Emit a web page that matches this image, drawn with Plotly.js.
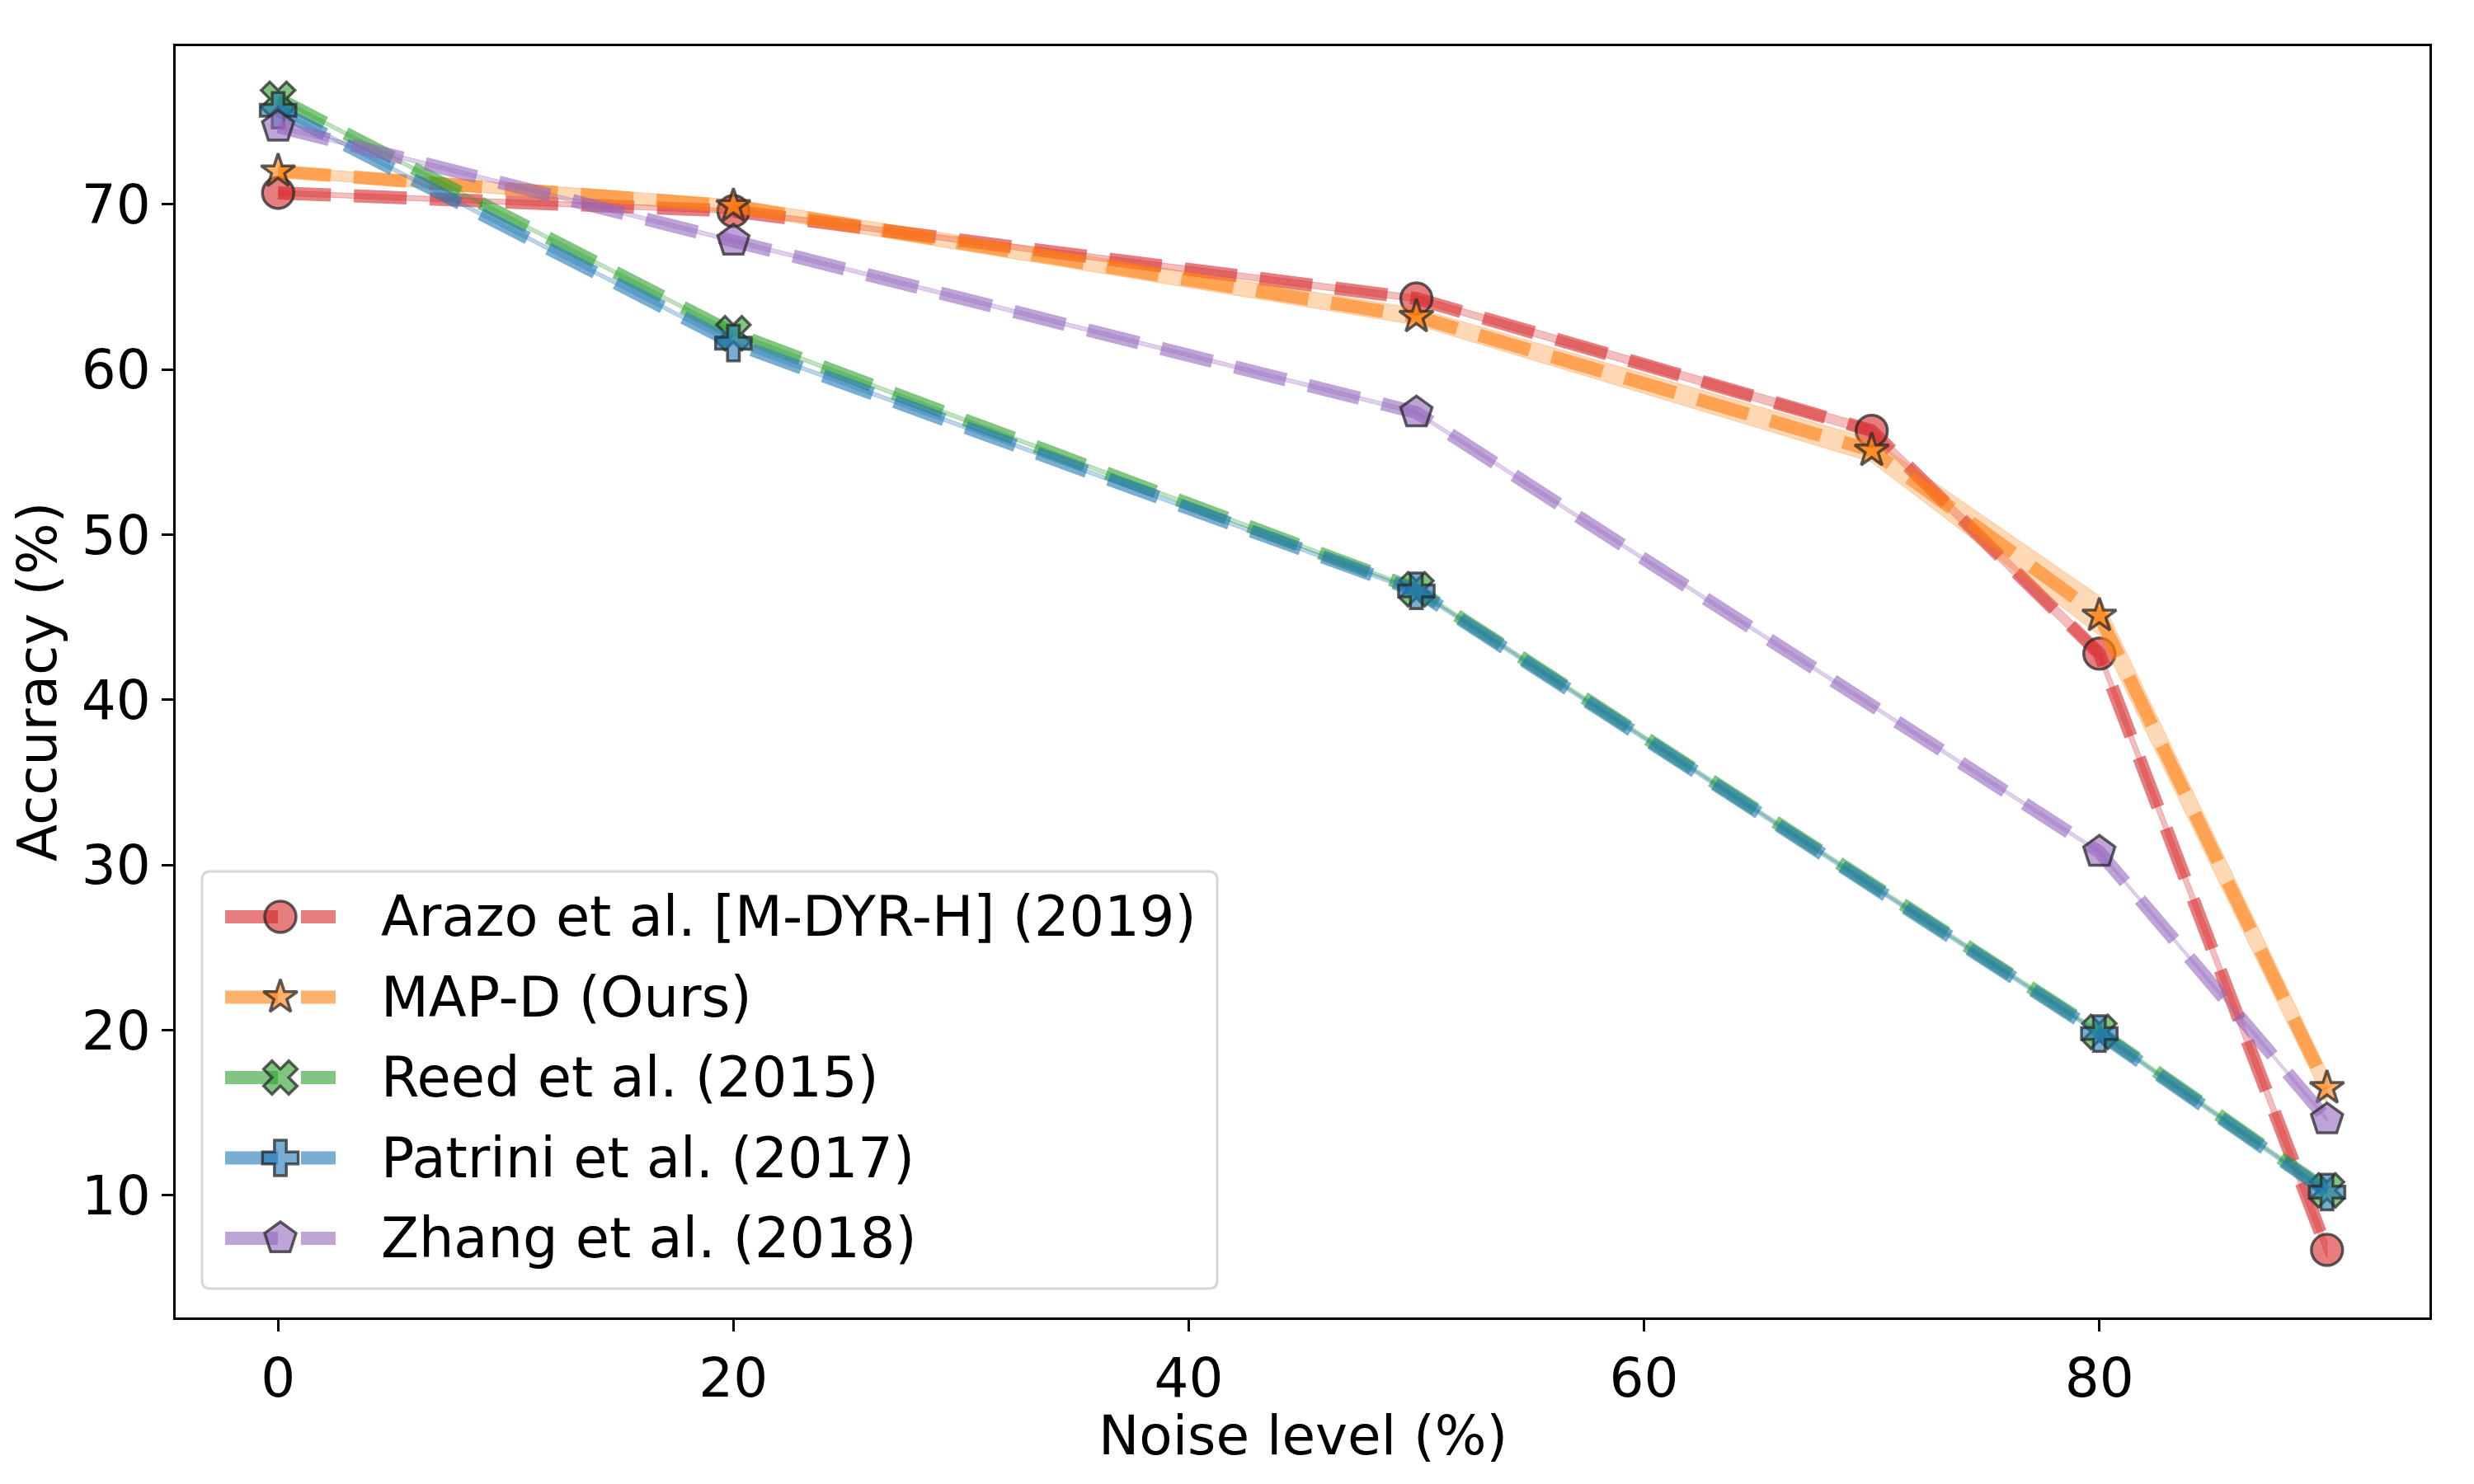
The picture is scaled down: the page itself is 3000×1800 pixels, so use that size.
<!DOCTYPE html>
<html>
<head>
<meta charset="utf-8">
<script src="https://cdn.plot.ly/plotly-3.0.1.min.js"></script>
<style>html, body { margin: 0; padding: 0; background: #fff; }</style>
</head>
<body>
<div id="chart" style="width:3000px;height:1800px"></div>
<script>
// noise levels (x) for each method
const noiseFull = [0, 20, 50, 70, 80, 90];
const noiseShort = [0, 20, 50, 80, 90];

// accuracy (%), with the std band half-widths
const arazoAcc = [70.7, 69.6, 64.3, 56.3, 42.8, 6.7];
const arazoStd = [0.15, 0.15, 0.2, 0.3, 0.4, 0.5];
const mapdAcc = [72.0, 69.9, 63.2, 55.1, 45.1, 16.5];
const mapdStd = [0.3, 0.4, 0.5, 0.7, 1.2, 1.0];
const reedAcc = [76.4, 62.2, 46.7, 19.9, 10.3];
const reedStd = [0.12, 0.12, 0.12, 0.12, 0.12];
const patriniAcc = [75.7, 61.6, 46.6, 19.8, 10.2];
const patriniStd = [0.12, 0.12, 0.12, 0.12, 0.12];
const zhangAcc = [74.7, 67.8, 57.4, 30.8, 14.6];
const zhangStd = [0.12, 0.12, 0.12, 0.12, 0.12];

const labels = ["Arazo et al. [M-DYR-H] (2019)", "MAP-D (Ours)", "Reed et al. (2015)",
                "Patrini et al. (2017)", "Zhang et al. (2018)"];
const xTicks = [0, 20, 40, 60, 80];
const yTicks = [10, 20, 30, 40, 50, 60, 70];

const rgbs = ["214,39,40", "255,127,14", "44,160,44", "31,119,180", "148,103,189"];
const symbols = ["circle", "star", "x", "cross", "pentagon"];
const sizes = [38, 31, 36, 36, 40];

const series = [
  {x: noiseFull, y: arazoAcc, s: arazoStd},
  {x: noiseFull, y: mapdAcc, s: mapdStd},
  {x: noiseShort, y: reedAcc, s: reedStd},
  {x: noiseShort, y: patriniAcc, s: patriniStd},
  {x: noiseShort, y: zhangAcc, s: zhangStd}
];

const FONT = "DejaVu Sans";
const DASH = "64px,28px";
const LW = 16;
const edge = {color: "rgba(40,40,40,0.75)", width: 3.5};
const textFont = {family: FONT, size: 66, color: "#000"};

const traces = [];
series.forEach((d, i) => {
  const up = d.y.map((v, k) => v + d.s[k]);
  const lo = d.y.map((v, k) => v - d.s[k]).reverse();
  traces.push({
    x: d.x.concat(d.x.slice().reverse()), y: up.concat(lo),
    mode: "lines", fill: "toself", fillcolor: "rgba(" + rgbs[i] + ",0.3)",
    line: {width: 1, color: "rgba(" + rgbs[i] + ",0.3)"},
    showlegend: false, hoverinfo: "skip"
  });
  traces.push({
    x: d.x, y: d.y, mode: "lines+markers", name: labels[i], showlegend: false,
    line: {color: "rgba(" + rgbs[i] + ",0.6)", width: LW, dash: DASH},
    marker: {symbol: symbols[i], size: sizes[i], color: "rgba(" + rgbs[i] + ",0.6)", line: edge}
  });
});

// hand-made legend on a pixel-scaled overlay axis (plotly caps legend marker size)
const L = {x0: 245, x1: 1476, y0: 1057, y1: 1563, row0: 1112, gap: 97.5,
           lineA: 273, lineB: 407, mark: 340, text: 460, r: 10};
const annotations = [];
labels.forEach((lab, i) => {
  const yy = L.row0 + i * L.gap;
  traces.push({
    x: [L.lineA, L.lineB], y: [yy, yy], xaxis: "x2", yaxis: "y2", mode: "lines",
    line: {color: "rgba(" + rgbs[i] + ",0.6)", width: LW, dash: DASH},
    showlegend: false, hoverinfo: "skip"
  });
  traces.push({
    x: [L.mark], y: [yy], xaxis: "x2", yaxis: "y2", mode: "markers",
    marker: {symbol: symbols[i], size: sizes[i], color: "rgba(" + rgbs[i] + ",0.6)", line: edge},
    showlegend: false, hoverinfo: "skip"
  });
  annotations.push({
    xref: "x2", yref: "y2", x: L.text, y: yy, text: lab, showarrow: false,
    xanchor: "left", yanchor: "middle", font: {family: FONT, size: 67, color: "#000"}
  });
});

// axis titles
annotations.push({
  xref: "paper", yref: "paper", x: 0.5, y: 0, yshift: -143, text: "Noise level (%)",
  showarrow: false, xanchor: "center", yanchor: "middle", font: textFont
});
annotations.push({
  xref: "paper", yref: "paper", x: 0, y: 0.5, xshift: -168, text: "Accuracy (%)",
  textangle: -90, showarrow: false, xanchor: "center", yanchor: "middle", font: textFont
});

const r = L.r;
const boxPath = `M ${L.x0 + r},${L.y0} L ${L.x1 - r},${L.y0} Q ${L.x1},${L.y0} ${L.x1},${L.y0 + r} ` +
  `L ${L.x1},${L.y1 - r} Q ${L.x1},${L.y1} ${L.x1 - r},${L.y1} L ${L.x0 + r},${L.y1} ` +
  `Q ${L.x0},${L.y1} ${L.x0},${L.y1 - r} L ${L.x0},${L.y0 + r} Q ${L.x0},${L.y0} ${L.x0 + r},${L.y0} Z`;

const axisBase = {
  showline: true, linecolor: "#000", linewidth: 3, mirror: true,
  ticks: "outside", ticklen: 14, tickwidth: 3, tickcolor: "#000",
  showgrid: false, zeroline: false,
  tickfont: textFont
};

const layout = {
  width: 3000, height: 1800,
  margin: {l: 213, r: 54, t: 56, b: 202},
  paper_bgcolor: "#fff", plot_bgcolor: "#fff",
  showlegend: false,
  font: {family: FONT, color: "#000"},
  xaxis: Object.assign({}, axisBase, {range: [-4.5, 94.5], tickvals: xTicks}),
  yaxis: Object.assign({}, axisBase, {range: [2.61, 79.58], tickvals: yTicks}),
  xaxis2: {overlaying: "x", anchor: "y2", range: [213, 2946], visible: false, fixedrange: true},
  yaxis2: {overlaying: "y", anchor: "x2", range: [1598, 56], visible: false, fixedrange: true},
  shapes: [{
    type: "path", xref: "x2", yref: "y2", path: boxPath, layer: "below",
    line: {color: "rgba(204,204,204,0.8)", width: 3}, fillcolor: "rgba(255,255,255,0.8)"
  }],
  annotations: annotations
};

Plotly.newPlot("chart", traces, layout, {staticPlot: true});
</script>
</body>
</html>
